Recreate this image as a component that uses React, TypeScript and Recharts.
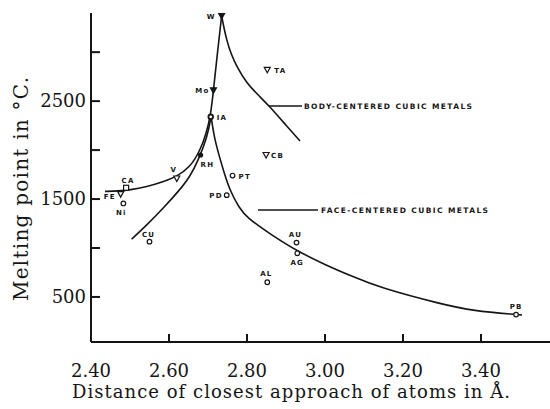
import { ComposedChart, Line, Scatter, XAxis, YAxis } from 'recharts'

const X_TICKS = [2.4, 2.6, 2.8, 3.0, 3.2, 3.4]
const Y_TICKS = [500, 1000, 1500, 2000, 2500, 3000]
const Y_LABELED = [500, 1500, 2500]

// metals as they are labelled on the plot
const METALS = ['W', 'TA', 'Mo', 'IA', 'V', 'RH', 'CA', 'FE', 'Ni', 'CU', 'PT', 'PD', 'CB', 'AU', 'AG', 'AL', 'PB']
const DISTANCE = [2.735, 2.852, 2.714, 2.707, 2.62, 2.681, 2.49, 2.476, 2.483, 2.55, 2.763, 2.748, 2.849, 2.927, 2.929, 2.852, 3.49]
const MELTING = [3370, 2820, 2610, 2340, 1710, 1950, 1615, 1550, 1455, 1065, 1740, 1540, 1950, 1055, 946, 650, 320]

// smooth curves drawn through the two families
const BCC_LEFT = [[2.436, 1578], [2.47, 1582], [2.5, 1592], [2.543, 1625], [2.585, 1676], [2.62, 1730], [2.654, 1825], [2.679, 1990], [2.695, 2160], [2.707, 2360], [2.714, 2610], [2.724, 2986], [2.735, 3370]]
const BCC_RIGHT = [[2.735, 3370], [2.741, 3247], [2.748, 3124], [2.759, 2981], [2.774, 2851], [2.799, 2682], [2.833, 2545], [2.857, 2450], [2.902, 2245], [2.936, 2093]]
const FCC_LEFT = [[2.504, 1089], [2.543, 1234], [2.585, 1405], [2.628, 1595], [2.654, 1730], [2.675, 1897], [2.698, 2130], [2.708, 2340]]
const FCC_RIGHT = [[2.708, 2340], [2.716, 2130], [2.728, 1950], [2.742, 1760], [2.757, 1580], [2.78, 1410], [2.8, 1310], [2.86, 1140], [2.93, 965], [3.0, 830], [3.07, 710], [3.14, 595], [3.3, 425], [3.38, 358], [3.49, 320], [3.505, 316]]

const MARKER: Record<string, string> = {
  W: 'triFill', TA: 'tri', Mo: 'triFill', IA: 'ring', V: 'tri', RH: 'dot', CA: 'square', FE: 'tri', CB: 'tri',
}
// label offset from marker: dx, dy, anchor
const LABEL_POS: Record<string, [number, number, string]> = {
  W: [-6, 3, 'end'], TA: [7, 3, 'start'], Mo: [-4, 3, 'end'], IA: [6, 3, 'start'], V: [-3, -6, 'middle'],
  RH: [0, 12, 'start'], CA: [2, -5, 'middle'], FE: [-5, 5, 'end'], Ni: [-2, 12, 'middle'], CU: [-1, -5, 'middle'],
  PT: [6, 3, 'start'], PD: [-4, 3, 'end'], CB: [5, 3, 'start'], AU: [-1, -6, 'middle'], AG: [0, 12, 'middle'],
  AL: [-1, -6, 'middle'], PB: [0, -6, 'middle'],
}

const toPts = (arr: number[][]) => arr.map(([x, y]) => ({ x, y }))
const metals = METALS.map((name, i) => ({ name, x: DISTANCE[i], y: MELTING[i] }))

const PLOT_LEFT = 91
const PLOT_BOTTOM = 342
const INK = '#151515'
const SERIF = '"DejaVu Serif", serif'
const SANS = '"DejaVu Sans", sans-serif'

const YTick = (props: any) => {
  const { y, payload } = props
  return (
    <g>
      <line x1={PLOT_LEFT} x2={PLOT_LEFT + 9} y1={y} y2={y} stroke={INK} strokeWidth={2} />
      {Y_LABELED.includes(payload.value) && (
        <text x={PLOT_LEFT - 5} y={y + 6} textAnchor="end" fontFamily={SERIF} fontSize={18} fill={INK}>
          {payload.value}
        </text>
      )}
    </g>
  )
}

const XTick = (props: any) => {
  const { x, payload } = props
  return (
    <g>
      <line x1={x} x2={x} y1={PLOT_BOTTOM} y2={PLOT_BOTTOM - 8} stroke={INK} strokeWidth={2} />
      <text x={x} y={377} textAnchor="middle" fontFamily={SERIF} fontSize={18} fill={INK}>
        {Number(payload.value).toFixed(2)}
      </text>
    </g>
  )
}

const Metal = (props: any) => {
  const { cx, cy, payload } = props
  const kind = MARKER[payload.name] ?? 'circle'
  const [dx, dy, anchor] = LABEL_POS[payload.name] ?? [6, 3, 'start']
  let mark
  if (kind === 'tri' || kind === 'triFill') {
    mark = (
      <polygon
        points={`${cx - 3},${cy - 2.5} ${cx + 3},${cy - 2.5} ${cx},${cy + 3}`}
        fill={kind === 'triFill' ? INK : '#fff'}
        stroke={INK}
        strokeWidth={1.2}
      />
    )
  } else if (kind === 'square') {
    mark = <rect x={cx - 2.5} y={cy - 2.5} width={5} height={5} fill="#fff" stroke={INK} strokeWidth={1.2} />
  } else if (kind === 'dot') {
    mark = <circle cx={cx} cy={cy} r={2.6} fill={INK} />
  } else {
    mark = <circle cx={cx} cy={cy} r={2.3} fill="#fff" stroke={INK} strokeWidth={kind === 'ring' ? 1.8 : 1.2} />
  }
  return (
    <g>
      {mark}
      <text
        x={cx + dx}
        y={cy + dy}
        textAnchor={anchor as any}
        fontFamily={SANS}
        fontWeight="bold"
        fontSize={7}
        letterSpacing={1.2}
        fill={INK}
      >
        {payload.name}
      </text>
    </g>
  )
}

export default function App() {
  return (
    <div style={{ position: 'absolute', left: 0, top: 0, width: 550, height: 409, background: '#fff' }}>
      <ComposedChart width={550} height={409} margin={{ top: 13, right: 0, bottom: 0, left: 0 }}>
        <XAxis
          type="number"
          dataKey="x"
          domain={[2.4, 3.577]}
          ticks={X_TICKS}
          interval={0}
          allowDataOverflow
          height={67}
          tickLine={false}
          axisLine={{ stroke: INK, strokeWidth: 2 }}
          tick={<XTick />}
        />
        <YAxis
          type="number"
          dataKey="y"
          domain={[40, 3400]}
          ticks={Y_TICKS}
          interval={0}
          allowDataOverflow
          width={91}
          tickLine={false}
          axisLine={{ stroke: INK, strokeWidth: 2 }}
          tick={<YTick />}
        />
        <Line data={toPts(BCC_LEFT)} dataKey="y" type="basis" stroke={INK} strokeWidth={1.6} dot={false} isAnimationActive={false} />
        <Line data={toPts(BCC_RIGHT)} dataKey="y" type="basis" stroke={INK} strokeWidth={1.6} dot={false} isAnimationActive={false} />
        <Line data={toPts(FCC_LEFT)} dataKey="y" type="basis" stroke={INK} strokeWidth={1.6} dot={false} isAnimationActive={false} />
        <Line data={toPts(FCC_RIGHT)} dataKey="y" type="basis" stroke={INK} strokeWidth={1.6} dot={false} isAnimationActive={false} />
        <Scatter data={metals} dataKey="y" shape={<Metal />} isAnimationActive={false} />
      </ComposedChart>
      <svg width={550} height={409} style={{ position: 'absolute', left: 0, top: 0, pointerEvents: 'none' }}>
        <line x1={269} x2={302} y1={106} y2={106} stroke={INK} strokeWidth={1.4} />
        <text x={304} y={109} fontFamily={SANS} fontWeight="bold" fontSize={7.5} fill={INK} textLength={168} lengthAdjust="spacing">
          BODY-CENTERED CUBIC METALS
        </text>
        <line x1={258} x2={318} y1={210} y2={210} stroke={INK} strokeWidth={1.4} />
        <text x={321} y={213} fontFamily={SANS} fontWeight="bold" fontSize={7.5} fill={INK} textLength={167} lengthAdjust="spacing">
          FACE-CENTERED CUBIC METALS
        </text>
        <text x={291} y={398} textAnchor="middle" fontFamily={SERIF} fontSize={18} fill={INK} textLength={438} lengthAdjust="spacing">
          Distance of closest approach of atoms in Å.
        </text>
        <text transform="translate(28,189) rotate(-90)" textAnchor="middle" fontFamily={SERIF} fontSize={20} fill={INK} textLength={224} lengthAdjust="spacing">
          Melting point in °C.
        </text>
      </svg>
    </div>
  )
}
